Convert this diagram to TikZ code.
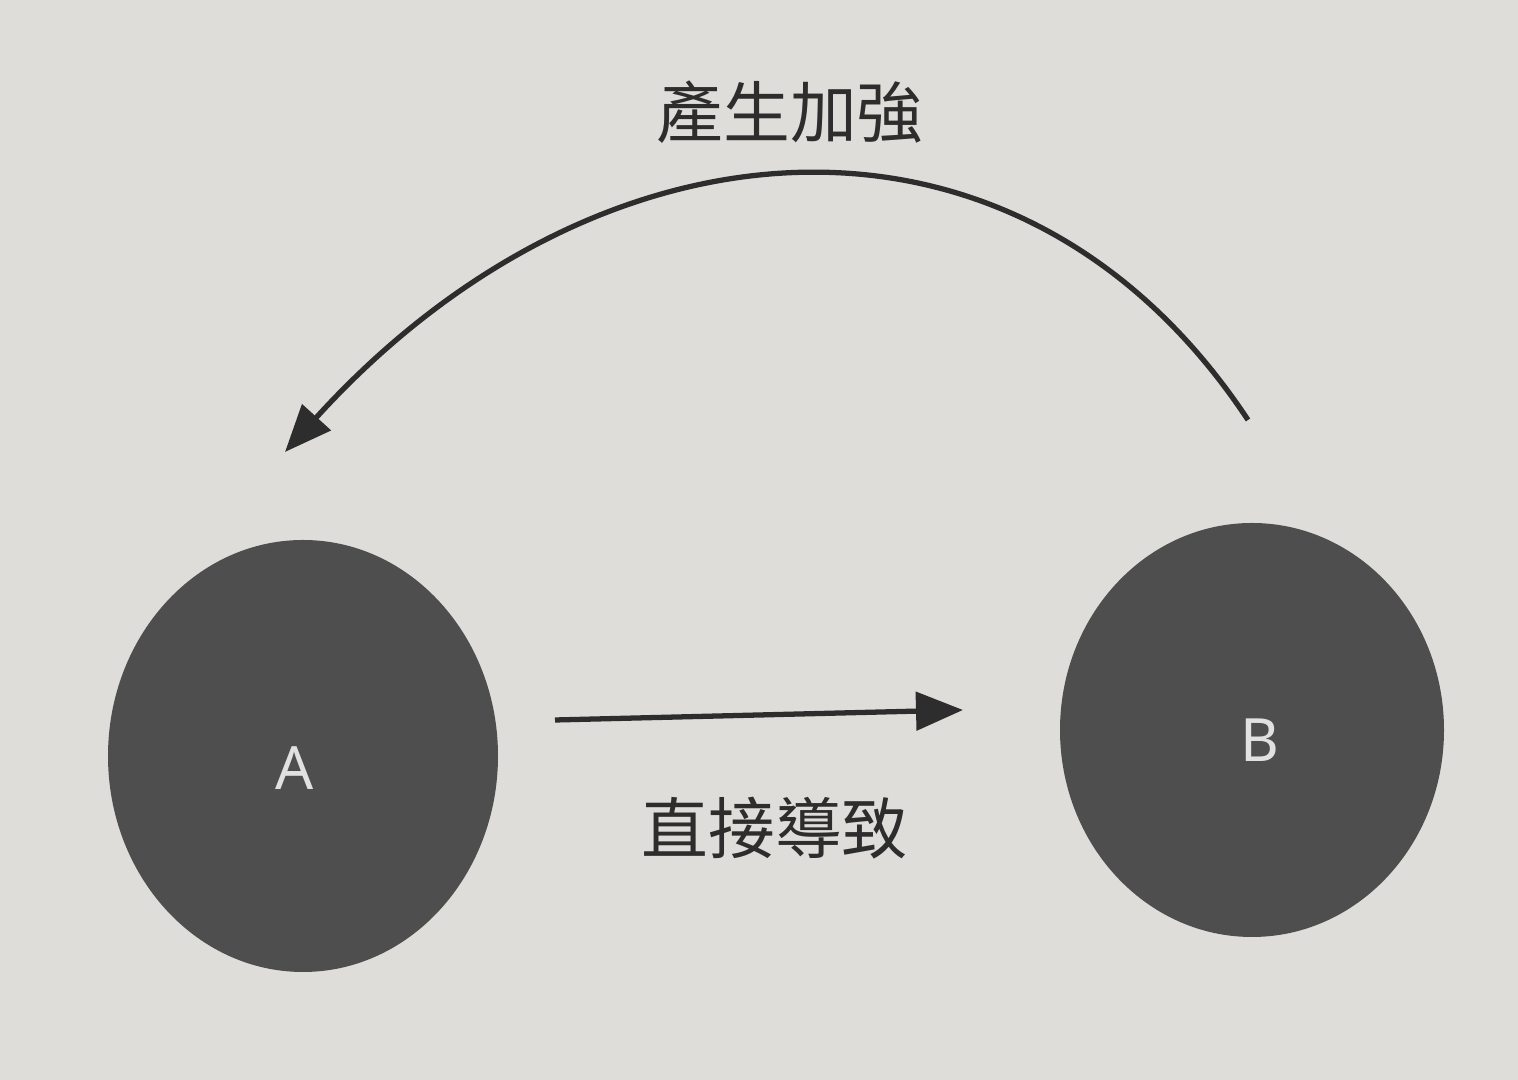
\documentclass[tikz,border=0pt]{standalone}
\usepackage{fontspec}
\newfontfamily\cjk{Noto Sans CJK TC}
\setsansfont{Noto Sans}
\usetikzlibrary{arrows.meta}
\definecolor{paper}{RGB}{222,221,217}
\definecolor{disc}{RGB}{78,78,78}
\definecolor{ink}{RGB}{45,45,45}
\definecolor{letter}{RGB}{225,225,225}
\tikzset{
  ball/.style={ellipse, fill=disc, draw=none},
  conn/.style={line width=1.5pt, draw=ink, -{Triangle[length=0.47cm,width=0.38cm]}},
  lbl/.style={text=ink, font=\cjk\fontsize{19pt}{22pt}\selectfont},
  let/.style={text=letter, font=\sffamily\fontsize{17pt}{20pt}\selectfont}
}
\begin{document}
\begin{tikzpicture}
\fill[paper] (0,0) rectangle (15.18,10.8);
\useasboundingbox (0,0) rectangle (15.18,10.8);
% circles
\fill[disc] (3.03,3.24) ellipse [x radius=1.95cm, y radius=2.16cm];
\fill[disc] (12.52,3.50) ellipse [x radius=1.92cm, y radius=2.07cm];
\node[let] (A) at (2.95,3.12) {A};
\node[let] (B) at (12.60,3.40) {B};
\coordinate (a1) at (5.55,3.60);
\coordinate (b1) at (9.63,3.70);
\coordinate (b2) at (12.48,6.60);
\coordinate (a2) at (2.85,6.28);
\draw[conn] (a1) -- (b1);
\draw[conn] (b2) .. controls (10.2,10.05) and (6.0,9.75) .. (a2);
\node[lbl] (t1) at (7.90,9.68) {產生加強};
\node[lbl] (t2) at (7.75,2.52) {直接導致};
\end{tikzpicture}
\end{document}
